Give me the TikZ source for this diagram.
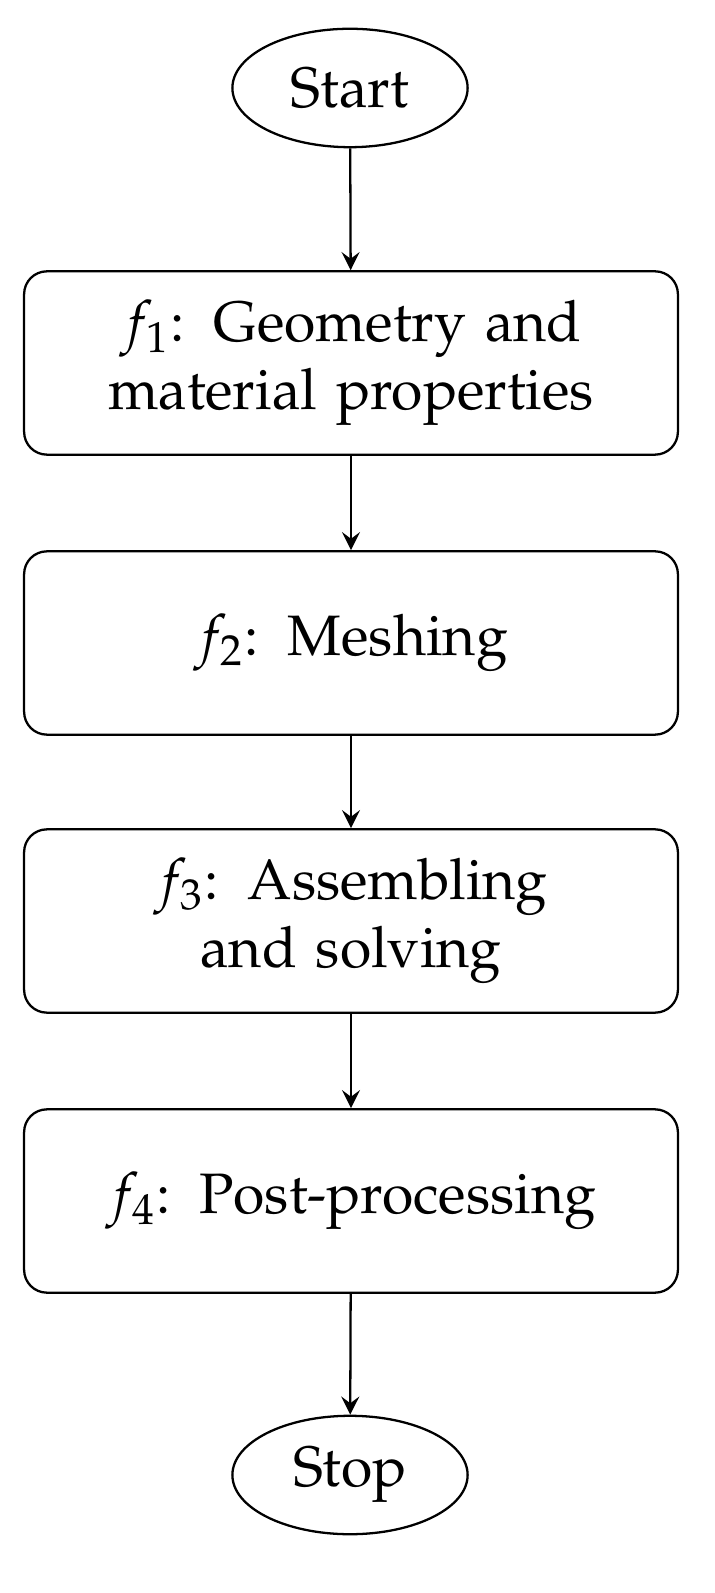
\documentclass[tikz,border=0pt]{standalone}
\usepackage[T1]{fontenc}
\usepackage{mathpazo}
\usetikzlibrary{shapes.geometric}
\begin{document}
\begin{tikzpicture}[->,>=stealth,x=0.00616cm,y=-0.00616cm]
  \def\bw{4.03cm}
  \def\bh{1.13cm}

\tikzstyle{term}=[ellipse,draw,minimum width=1.45cm,minimum height=0.73cm,inner sep=0pt]
\tikzstyle{stage}=[rectangle,draw,rounded corners=4pt,minimum width=\bw,minimum height=\bh,text width=3.6cm,align=center]
\useasboundingbox (0,0) rectangle (714,1593);
\node[term] (Start) at (350,88) {Start};
\node[stage] (F1) at (351,363) {$f_1$: Geometry and material properties};
\draw (Start) -- (F1);
\node[stage] (F2) at (351,643) {$f_2$: Meshing};
\draw (F1) -- (F2);
\node[stage] (F3) at (351,921) {$f_3$: Assembling and solving};
\draw (F2) -- (F3);
\node[stage] (F4) at (351,1201) {$f_4$: Post-processing};
\draw (F3) -- (F4);
\node[term] (Stop) at (350,1475) {Stop};
\draw (F4) -- (Stop);
\end{tikzpicture}
\end{document}
